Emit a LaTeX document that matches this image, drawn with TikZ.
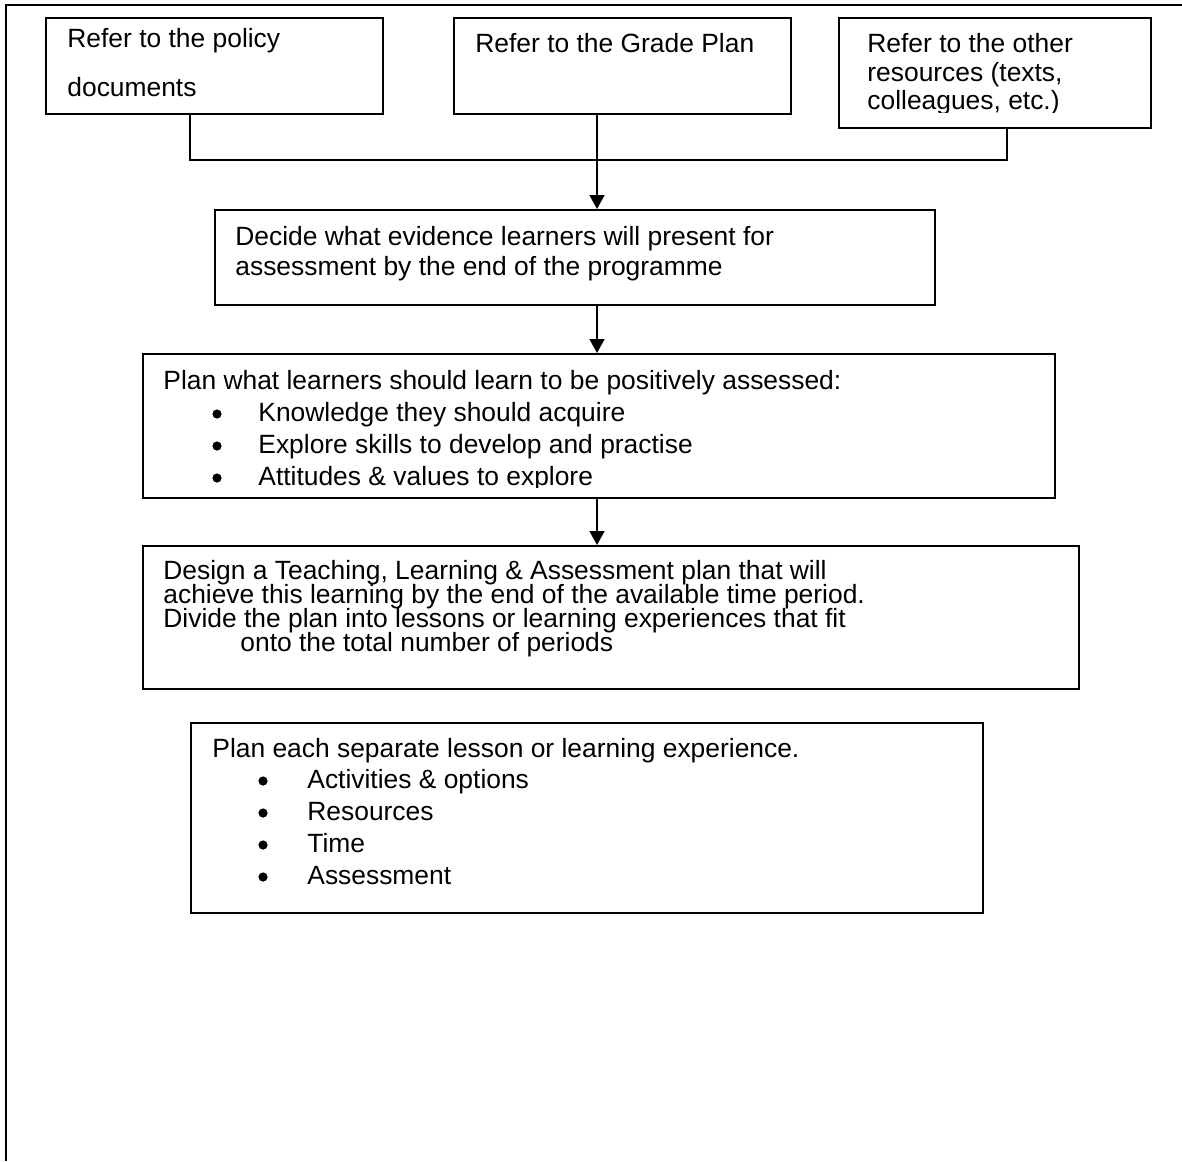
\documentclass[tikz,border=0pt]{standalone}
\usepackage{fontspec}
\setmainfont{Liberation Sans}
\usetikzlibrary{arrows.meta}

\begin{document}
\begin{tikzpicture}[
  x=0.5pt, y=-0.5pt,
  frame/.style={line width=1.1pt},
  box/.style={draw, line width=0.8pt, anchor=north west, inner sep=0pt},
  txt/.style={anchor=base west, inner sep=0pt, font=\fontsize{13.2}{15}\selectfont},
  dot/.style={circle, fill, inner sep=0pt, minimum size=4.6pt},
  link/.style={line width=0.8pt},
  arr/.style={line width=0.8pt, -{Triangle[width=7.5pt,length=7pt]}}
]
% page area
\useasboundingbox (0,0) rectangle (1182,1161);
% cropped outer frame (top and left edges only)
\draw[frame] (6,1161) -- (6,5) -- (1182,5);

% boxes
\node[box, minimum width=168.5pt, minimum height=48pt] (b1) at (45,17) {};
\node[box, minimum width=168.5pt, minimum height=48pt] (b2) at (453,17) {};
\node[box, minimum width=156pt, minimum height=55pt] (b3) at (838,17) {};
\node[box, minimum width=360pt, minimum height=47.5pt] (b4) at (214,209) {};
\node[box, minimum width=456pt, minimum height=72pt] (b5) at (142,353) {};
\node[box, minimum width=468pt, minimum height=71.5pt] (b6) at (142,545) {};
\node[box, minimum width=396pt, minimum height=95pt] (b7) at (190,722) {};

% box 1
\node[txt] (t1a) at (67,48) {Refer to the policy};
\node[txt] (t1b) at (67,97) {documents};
% box 2
\node[txt] (t2a) at (475,53) {Refer to the Grade Plan};
% box 3 (last line clipped by its text frame)
\node[txt] (t3a) at (867,53) {Refer to the other};
\node[txt] (t3b) at (867,82) {resources (texts,};
\begin{scope}
  \clip (840,60) rectangle (1148,113);
  \node[txt] (t3c) at (867,110) {colleagues, etc.)};
\end{scope}
% box 4
\node[txt] (t4a) at (235,245) {Decide what evidence learners will present for};
\node[txt] (t4b) at (235,275) {assessment by the end of the programme};
% box 5
\node[txt] (t5a) at (163,389) {Plan what learners should learn to be positively assessed:};
\node[dot] (d5a) at (217,414) {};
\node[txt] (t5b) at (258,421) {Knowledge they should acquire};
\node[dot] (d5b) at (217,446) {};
\node[txt] (t5c) at (258,453) {Explore skills to develop and practise};
\begin{scope}
  \clip (144,430) rectangle (1052,487);
  \node[dot] (d5c) at (217,478) {};
  \node[txt] (t5d) at (258,485) {Attitudes \& values to explore};
\end{scope}
% box 6
\node[txt] (t6a) at (163,579) {Design a Teaching, Learning \& Assessment plan that will};
\node[txt] (t6b) at (163,603) {achieve this learning by the end of the available time period.};
\node[txt] (t6c) at (163,627) {Divide the plan into lessons or learning experiences that fit};
\node[txt] (t6d) at (240,651) {onto the total number of periods};
% box 7
\node[txt] (t7a) at (212,757) {Plan each separate lesson or learning experience.};
\node[dot] (d7a) at (263,781) {};
\node[txt] (t7b) at (307,788) {Activities \& options};
\node[dot] (d7b) at (263,813) {};
\node[txt] (t7c) at (307,820) {Resources};
\node[dot] (d7c) at (263,845) {};
\node[txt] (t7d) at (307,852) {Time};
\node[dot] (d7d) at (263,877) {};
\node[txt] (t7e) at (307,884) {Assessment};

% connectors
\coordinate (jl) at (190,160);
\coordinate (jr) at (1007,160);
\coordinate (jm) at (597,160);
\draw[link] (b1.south -| jl) -- (jl) -- (jr) -- (b3.south -| jr);
\draw[arr] (b2.south -| jm) -- (b4.north -| jm);
\draw[arr] (b4.south -| jm) -- (b5.north -| jm);
\draw[arr] (b5.south -| jm) -- (b6.north -| jm);
\end{tikzpicture}
\end{document}
